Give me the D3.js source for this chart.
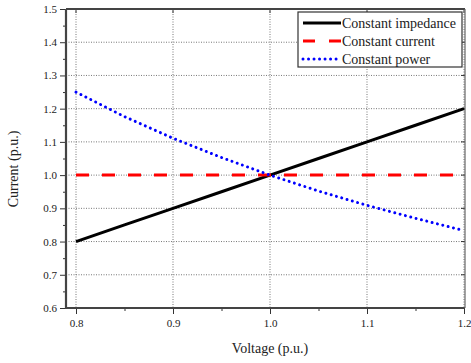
<!DOCTYPE html>
<html><head><meta charset="utf-8">
<script src="https://cdn.jsdelivr.net/npm/d3@7"></script>
<style>body{margin:0;background:#fff}svg{display:block}text{font-family:"Liberation Serif","Times New Roman",serif;fill:#222}</style>
</head><body><svg id="c" width="471" height="363"></svg>
<script>
const voltage = [0.8,0.85,0.9,0.95,1.0,1.05,1.1,1.15,1.2];
const impedance = [0.8,0.85,0.9,0.95,1.0,1.05,1.1,1.15,1.2];
const constCurrent = [1,1,1,1,1,1,1,1,1];
const constPower = [1.25,1.176,1.111,1.053,1.0,0.952,0.909,0.870,0.833];
const xTicks = [0.8,0.9,1.0,1.1,1.2];
const xTickLabels = ["0.8","0.9","1.0","1.1","1.2"];
const yTicks = [0.6,0.7,0.8,0.9,1.0,1.1,1.2,1.3,1.4,1.5];
const seriesNames = ["Constant impedance","Constant current","Constant power"];

const svg = d3.select("#c");
const x = d3.scaleLinear().domain([0.8,1.2]).range([76,464]);
const y = d3.scaleLinear().domain([0.6,1.5]).range([308,9]);
const L = 66, R = 465, T = 9, B = 308;

// grid
const grid = svg.append("g").attr("stroke","#777").attr("stroke-width",1).attr("stroke-dasharray","1,1.5");
xTicks.forEach(v=>grid.append("line").attr("x1",x(v)).attr("x2",x(v)).attr("y1",T).attr("y2",B));
yTicks.filter(v=>v>0.6&&v<1.5).forEach(v=>grid.append("line").attr("x1",L).attr("x2",R).attr("y1",y(v)).attr("y2",y(v)));

// axes
const yAxis = d3.axisLeft(y).tickValues(yTicks).tickFormat(d3.format(".1f")).tickSize(6).tickPadding(3);
const gy = svg.append("g").attr("transform",`translate(${L},0)`).call(yAxis);
gy.select(".domain").remove();
gy.selectAll("text").attr("font-size",11).style("font-family","Liberation Serif");
gy.selectAll("line").attr("stroke","#333");
const yMinor = d3.range(0.65,1.5,0.1);
svg.append("g").attr("transform",`translate(${L},0)`).call(d3.axisLeft(y).tickValues(yMinor).tickSize(3).tickFormat(""))
  .call(g=>g.select(".domain").remove()).selectAll("line").attr("stroke","#333");

const xAxis = d3.axisBottom(x).tickValues(xTicks).tickFormat((d,i)=>xTickLabels[i]).tickSize(6).tickPadding(5);
const gx = svg.append("g").attr("transform",`translate(0,${B})`).call(xAxis);
gx.select(".domain").remove();
gx.selectAll("text").attr("font-size",11).style("font-family","Liberation Serif");
gx.selectAll("line").attr("stroke","#333");
svg.append("g").attr("transform",`translate(0,${B})`).call(d3.axisBottom(x).tickValues([0.85,0.95,1.05,1.15]).tickSize(3).tickFormat(""))
  .call(g=>g.select(".domain").remove()).selectAll("line").attr("stroke","#333");

// top/right inward ticks
const fr = svg.append("g").attr("stroke","#333");
xTicks.forEach(v=>fr.append("line").attr("x1",x(v)).attr("x2",x(v)).attr("y1",T).attr("y2",T+4));
yTicks.forEach(v=>fr.append("line").attr("x1",R).attr("x2",R-4).attr("y1",y(v)).attr("y2",y(v)));

// frame
svg.append("line").attr("x1",L).attr("x2",L).attr("y1",T).attr("y2",B+1).attr("stroke","#444").attr("stroke-width",2.2);
svg.append("line").attr("x1",L-1).attr("x2",R).attr("y1",B).attr("y2",B).attr("stroke","#444").attr("stroke-width",2);
svg.append("line").attr("x1",L).attr("x2",R).attr("y1",T).attr("y2",T).attr("stroke","#444").attr("stroke-width",2);
svg.append("line").attr("x1",R).attr("x2",R).attr("y1",T).attr("y2",B).attr("stroke","#666").attr("stroke-width",1.2);

// series
const line = vals => d3.line().x((d,i)=>x(voltage[i])).y(d=>y(d))(vals);
const styles = [
  {color:"#000", dash:null, cap:"butt", w:3},
  {color:"#ff0000", dash:"13,13", cap:"butt", w:3},
  {color:"#0000ff", dash:"0.01,5.5", cap:"round", w:3}
];
[impedance,constCurrent,constPower].forEach((vals,i)=>{
  const s = styles[i];
  svg.append("path").attr("d",line(vals)).attr("fill","none").attr("stroke",s.color)
    .attr("stroke-width",s.w).attr("stroke-dasharray",s.dash).attr("stroke-linecap",s.cap);
});

// legend
const lg = svg.append("g");
lg.append("rect").attr("x",298).attr("y",12).attr("width",164).attr("height",55).attr("fill","#fff").attr("stroke","#333").attr("stroke-width",1.2);
const ly = [23,41,59];
seriesNames.forEach((n,i)=>{
  const s = styles[i];
  lg.append("line").attr("x1",303).attr("x2",341).attr("y1",ly[i]).attr("y2",ly[i]).attr("stroke",s.color)
    .attr("stroke-width",s.w).attr("stroke-dasharray",i==1?"12,14":s.dash).attr("stroke-linecap",s.cap);
  lg.append("text").attr("x",342).attr("y",ly[i]+5).attr("font-size",14).text(n);
});

// labels
svg.append("text").attr("x",270).attr("y",353).attr("text-anchor","middle").attr("font-size",14).text("Voltage (p.u.)");
svg.append("text").attr("transform","translate(18,169) rotate(-90)").attr("text-anchor","middle").attr("font-size",14).text("Current (p.u.)");
</script></body></html>
